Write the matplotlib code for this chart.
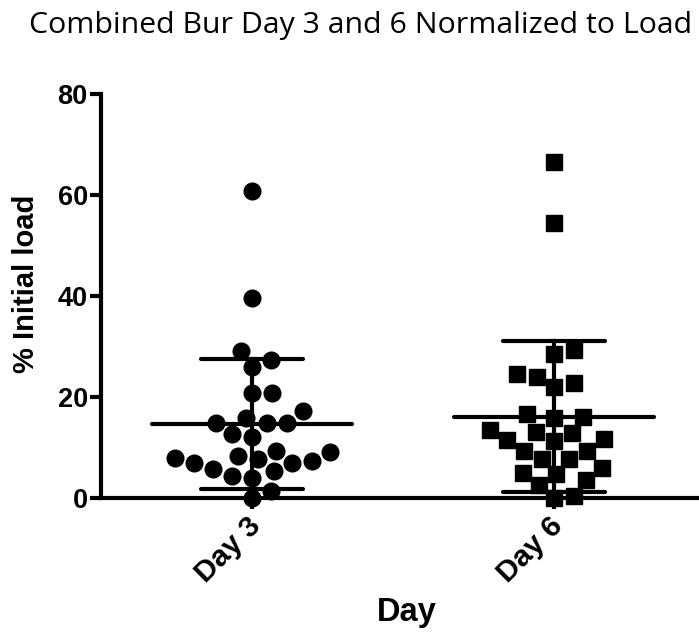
import numpy as np
import matplotlib
matplotlib.use("Agg")
import matplotlib.pyplot as plt
from matplotlib.transforms import ScaledTranslation

# values (% initial load)
DAYS = ["Day 3", "Day 6"]
DAY3 = [60.8, 39.7, 29.2, 27.3, 25.9, 20.7, 20.7, 17.2, 14.9, 14.8, 14.8, 15.9,
        12.1, 12.7, 9.4, 8.4, 7.8, 7.0, 5.7, 5.3, 7.0, 7.3, 8.0, 9.1, 4.0, 4.3,
        1.4, 0.0]
DAY6 = [66.6, 54.5, 29.4, 28.6, 24.0, 24.6, 22.0, 22.8, 16.6, 15.9, 16.1, 13.1,
        13.5, 11.6, 11.2, 11.4, 12.8, 9.4, 9.4, 7.8, 7.8, 6.0, 4.8, 5.0, 2.6,
        3.5, 0.0, 0.4]
YTICKS = [0, 20, 40, 60, 80]

W, H, DPI = 699, 634, 100
AX_L, AX_R, AX_B, AX_T = 101, 705, 498, 94   # pixel box of the axes
XLIM = (-0.5, 1.5)
YLIM = (0, 80)
px_y = (AX_B - AX_T) / (YLIM[1] - YLIM[0])
px_x = (AX_R - AX_L) / (XLIM[1] - XLIM[0])
BOLD = dict(fontweight="bold", family="Liberation Sans")


def swarm(vals, d):
    """simple beeswarm: returns x offsets in pixels"""
    ys = np.asarray(vals, float) * px_y
    order = np.argsort(ys)
    xs = np.zeros(len(ys))
    done = []
    for i in order:
        cands = [0.0]
        for j in done:
            dy = ys[i] - ys[j]
            if abs(dy) < d:
                dx = np.sqrt(d * d - dy * dy)
                cands += [xs[j] + dx, xs[j] - dx]
        cands.sort(key=abs)
        for c in cands:
            ok = all((c - xs[j]) ** 2 + (ys[i] - ys[j]) ** 2 >= d * d - 1e-6 for j in done)
            if ok:
                xs[i] = c
                break
        done.append(i)
    return xs


fig = plt.figure(figsize=(W / DPI, H / DPI), dpi=DPI)
ax = fig.add_axes([AX_L / W, (H - AX_B) / H, (AX_R - AX_L) / W, (AX_B - AX_T) / H])

LW = 3.0
for k, (vals, mk) in enumerate([(DAY3, "o"), (DAY6, "s")]):
    off = swarm(vals, 20) / px_x
    ax.plot(k + off, vals, ls="none", marker=mk, ms=12 if mk == "o" else 11.5,
            color="black", clip_on=False, zorder=3)
    m = np.mean(vals)
    sd = np.std(vals, ddof=1)
    ax.plot([k - 0.33, k + 0.33], [m, m], color="black", lw=LW, solid_capstyle="round", zorder=4)
    ax.plot([k, k], [m - sd, m + sd], color="black", lw=LW, zorder=4)
    for v in (m - sd, m + sd):
        ax.plot([k - 0.17, k + 0.17], [v, v], color="black", lw=LW,
                solid_capstyle="round", zorder=4)

ax.set_xlim(*XLIM)
ax.set_ylim(*YLIM)
for s in ("top", "right"):
    ax.spines[s].set_visible(False)
for s in ("left", "bottom"):
    ax.spines[s].set_linewidth(LW)
ax.set_yticks(YTICKS)
ax.set_xticks(range(len(DAYS)))
ax.tick_params(axis="y", length=8, width=LW, pad=1.5, labelsize=19.5)
ax.tick_params(axis="x", length=8, width=LW, pad=2, labelsize=21.5)
ax.set_xticklabels(DAYS, rotation=45, ha="right", rotation_mode="anchor", **BOLD)
ax.set_yticklabels([str(t) for t in YTICKS], **BOLD)
nudge = ScaledTranslation(-0.05, 0, fig.dpi_scale_trans)
for lbl in ax.get_xticklabels():
    lbl.set_transform(lbl.get_transform() + nudge)

ax.set_ylabel("% Initial load", fontsize=21, **BOLD)
ax.yaxis.set_label_coords(-0.101, 0.53)
fig.text(407 / W, 1 - 612 / H, "Day", ha="center", va="center", fontsize=23.5, **BOLD)
fig.text(361 / W, 1 - 25 / H, "Combined Bur Day 3 and 6 Normalized to Load",
         ha="center", va="center", fontsize=21.8, family="Open Sans")

fig.savefig("out.png", dpi=DPI)
